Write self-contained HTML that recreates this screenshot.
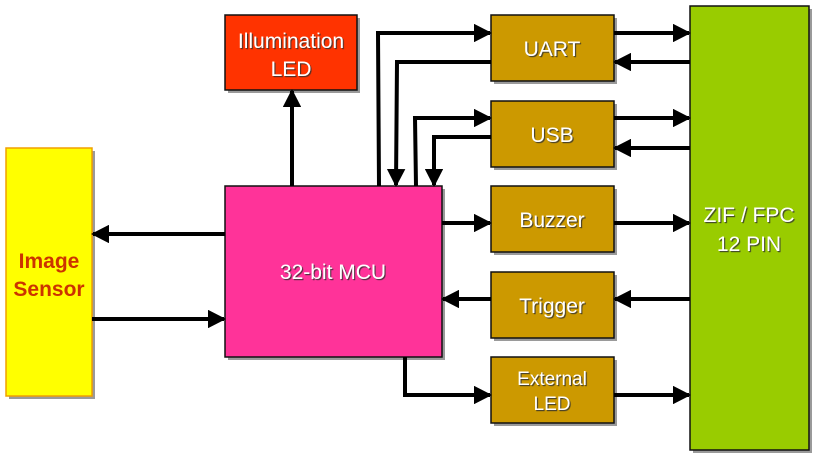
<!DOCTYPE html>
<html><head><meta charset="utf-8"><style>
html,body{margin:0;padding:0;background:#fff;}
svg{display:block;}
text{font-family:"Liberation Sans",Arial,sans-serif;}
</style></head><body>
<svg width="819" height="464" viewBox="0 0 819 464" xmlns="http://www.w3.org/2000/svg">
<defs>
<marker id="a" markerWidth="4.5" markerHeight="4.6" refX="4" refY="2.3" orient="auto" markerUnits="strokeWidth">
<path d="M0,0 L4.5,2.3 L0,4.6 z" fill="#000"/>
</marker>
<filter id="ts" x="-10%" y="-10%" width="130%" height="140%">
<feDropShadow dx="1.2" dy="1.2" stdDeviation="0.3" flood-color="#333" flood-opacity="0.8"/>
</filter>
</defs>
<g fill="#9a9a9a">
<rect x="9" y="151" width="86" height="248"/>
<rect x="228" y="189" width="217" height="171"/>
<rect x="228" y="18" width="132" height="75"/>
<rect x="494" y="18" width="123" height="66"/>
<rect x="494" y="104" width="123" height="66"/>
<rect x="494" y="189" width="123" height="66"/>
<rect x="494" y="275" width="123" height="66"/>
<rect x="494" y="360" width="123" height="66"/>
<rect x="693" y="9" width="119" height="444"/>
</g>
<rect x="6" y="148" width="86" height="248" fill="#ffff00" stroke="#f0a000" stroke-width="1.5"/>
<rect x="225" y="186" width="217" height="171" fill="#ff3399" stroke="#111" stroke-width="1.5"/>
<rect x="225" y="15" width="132" height="75" fill="#ff3300" stroke="#111" stroke-width="1.5"/>
<g fill="#cc9900" stroke="#111" stroke-width="1.5">
<rect x="491" y="15" width="123" height="66"/>
<rect x="491" y="101" width="123" height="66"/>
<rect x="491" y="186" width="123" height="66"/>
<rect x="491" y="272" width="123" height="66"/>
<rect x="491" y="357" width="123" height="66"/>
</g>
<rect x="690" y="6" width="119" height="444" fill="#99cc00" stroke="#111" stroke-width="1.5"/>

<g stroke="#000" stroke-width="4" fill="none" stroke-linejoin="miter">
<line x1="225" y1="234" x2="93" y2="234" marker-end="url(#a)"/>
<line x1="92" y1="319" x2="224" y2="319" marker-end="url(#a)"/>
<line x1="292" y1="186" x2="292" y2="91" marker-end="url(#a)"/>
<polyline points="379,186 378,33 490,33" marker-end="url(#a)"/>
<polyline points="491,62 397,62 396,185" marker-end="url(#a)"/>
<polyline points="416,186 415,118 490,118" marker-end="url(#a)"/>
<polyline points="491,137 434,137 434,185" marker-end="url(#a)"/>
<line x1="442" y1="223" x2="490" y2="223" marker-end="url(#a)"/>
<line x1="614" y1="223" x2="689" y2="223" marker-end="url(#a)"/>
<line x1="690" y1="299" x2="615" y2="299" marker-end="url(#a)"/>
<line x1="491" y1="299" x2="443" y2="299" marker-end="url(#a)"/>
<polyline points="405,357 405,395 490,395" marker-end="url(#a)"/>
<line x1="614" y1="395" x2="689" y2="395" marker-end="url(#a)"/>
<line x1="614" y1="33" x2="689" y2="33" marker-end="url(#a)"/>
<line x1="690" y1="62" x2="615" y2="62" marker-end="url(#a)"/>
<line x1="614" y1="118" x2="689" y2="118" marker-end="url(#a)"/>
<line x1="690" y1="148" x2="615" y2="148" marker-end="url(#a)"/>
</g>

<g font-size="21" text-anchor="middle" fill="#cc3300" font-weight="bold">
<text x="49" y="268">Image</text>
<text x="49" y="296">Sensor</text>
</g>
<g font-size="21" text-anchor="middle" fill="#fff" filter="url(#ts)">
<text x="333" y="279">32-bit MCU</text>
<text x="291" y="48">Illumination</text>
<text x="291" y="76">LED</text>
<text x="552" y="56">UART</text>
<text x="552" y="142">USB</text>
<text x="552" y="227">Buzzer</text>
<text x="552" y="313">Trigger</text>
<text x="552" y="385" font-size="19">External</text>
<text x="552" y="410" font-size="19">LED</text>
<text x="749" y="222">ZIF / FPC</text>
<text x="749" y="251">12 PIN</text>
</g>
</svg>
</body></html>
